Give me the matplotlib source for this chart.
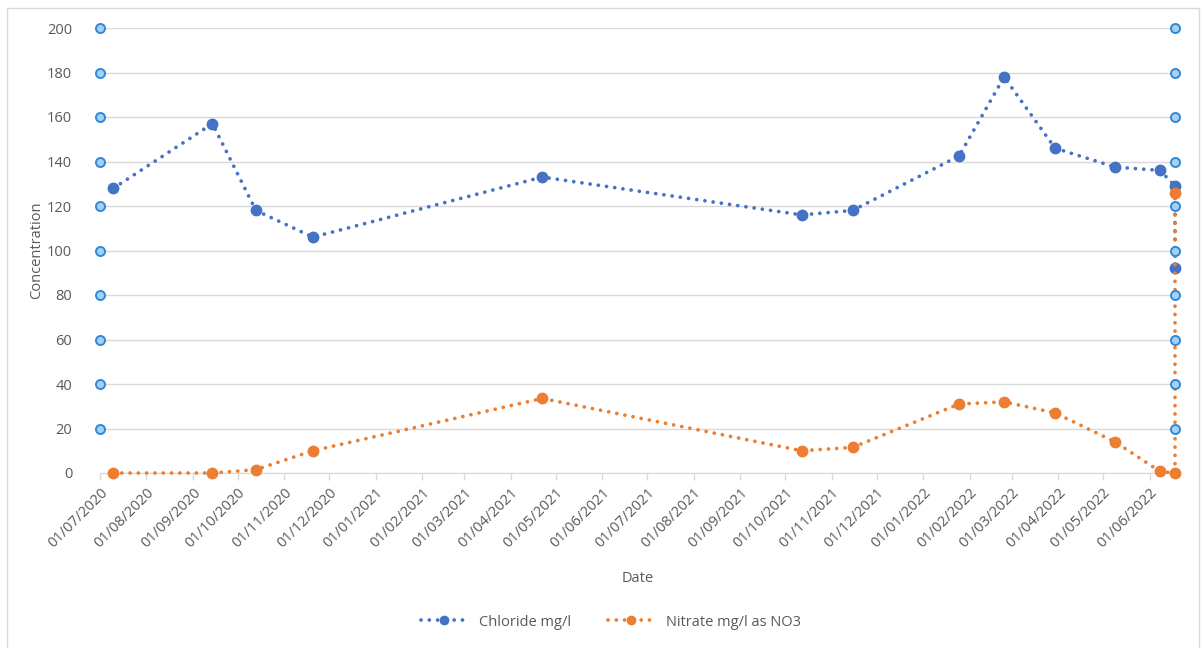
import pandas as pd
import matplotlib
matplotlib.use("Agg")
import matplotlib.pyplot as plt
import matplotlib.dates as mdates
from matplotlib.patches import Rectangle

# --- DATA ---
sample_dates = ["2020-07-10", "2020-09-14", "2020-10-13", "2020-11-20", "2021-04-22",
                "2021-10-12", "2021-11-15", "2022-01-25", "2022-02-24", "2022-03-30",
                "2022-05-09", "2022-06-08", "2022-06-18", "2022-06-18"]
chloride = [128, 157, 118, 106, 133, 116, 118, 142.5, 178, 146, 137.5, 136, 129, 92]
nitrate = [0, 0, 1.5, 10, 33.5, 10, 11.5, 31, 32, 27, 14, 0.7, 0, 126]
axis_marks = [20, 40, 60, 80, 100, 120, 140, 160, 180, 200]
x_start, x_end = "2020-07-01", "2022-06-18"

BLUE = "#4472C4"
ORANGE = "#ED7D31"
GREY = "#595959"

plt.rcParams['font.family'] = ['Open Sans', 'DejaVu Sans']

dates = pd.to_datetime(sample_dates)
x0, x1 = pd.Timestamp(x_start), pd.Timestamp(x_end)

fig = plt.figure(figsize=(12.03, 6.48), dpi=100)
ax = fig.add_axes([100 / 1203, 1 - 473 / 648, 1075 / 1203, 445 / 648])

# chart border
fig.patches.append(Rectangle((7 / 1203, -0.01), 1192 / 1203, 1 - 8 / 648 + 0.01,
                             transform=fig.transFigure, fill=False,
                             edgecolor="#D9D9D9", linewidth=1))

# round dots along the line
line_kw = dict(linestyle=(0, (0.01, 2.2)), linewidth=2.7, dash_capstyle="round",
               marker="o", markersize=7.5, zorder=3, clip_on=False)
ax.plot(dates, chloride, color=BLUE, label="Chloride mg/l", **line_kw)
ax.plot(dates, nitrate, color=ORANGE, label="Nitrate mg/l as NO3", **line_kw)

# hollow circle markers on both vertical edges
for xe in (x0, x1):
    ax.plot([xe] * len(axis_marks), axis_marks, linestyle="none", marker="o",
            markersize=6.5, markerfacecolor="#A9CFF2", markeredgecolor="#2E8AD8",
            markeredgewidth=1.4, zorder=4, clip_on=False)

ax.set_xlim(x0, x1)
ax.set_ylim(0, 200)
ax.set_yticks(range(0, 201, 20))
ax.grid(axis="y", color="#D9D9D9", linewidth=1)
ax.set_axisbelow(True)

ax.xaxis.set_major_locator(mdates.MonthLocator())
ax.xaxis.set_major_formatter(mdates.DateFormatter("%d/%m/%Y"))
for lab in ax.get_xticklabels():
    lab.set_rotation(45)
    lab.set_ha("right")
    lab.set_rotation_mode("anchor")

for side in ("top", "right", "left"):
    ax.spines[side].set_visible(False)
ax.spines["bottom"].set_color("#D9D9D9")
ax.tick_params(axis="x", colors="#D9D9D9", labelcolor=GREY, labelsize=10.5,
               length=5, width=1, pad=4)
ax.tick_params(axis="y", length=0, labelcolor=GREY, labelsize=10.5, pad=20)

ax.set_xlabel("Date", color=GREY, fontsize=10.5, labelpad=14)
ax.set_ylabel("Concentration", color=GREY, fontsize=10.5, labelpad=2)

fig.legend(loc="center", bbox_to_anchor=(0.508, 1 - 622 / 648), ncol=2, frameon=False,
           fontsize=10.5, labelcolor=GREY, handlelength=3.2, columnspacing=2.5,
           markerscale=0.8)

fig.savefig("out.png", dpi=100)
